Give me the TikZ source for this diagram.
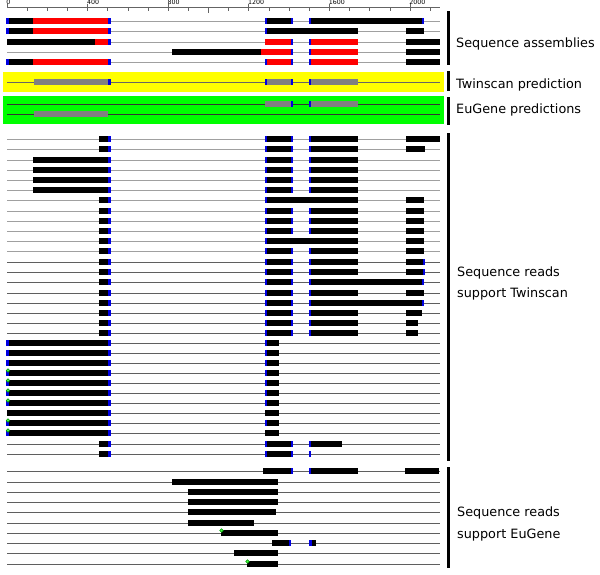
\documentclass[tikz,border=0pt]{standalone}
\usepackage{fontspec}
\setmainfont{DejaVu Sans}
\definecolor{bmc}{RGB}{0,0,225}
\definecolor{rdc}{RGB}{255,0,0}
\definecolor{ylc}{RGB}{255,255,0}
\definecolor{gnc}{RGB}{0,255,0}
\definecolor{gyc}{RGB}{128,128,128}
\definecolor{tlc}{RGB}{160,160,160}
\definecolor{tdc}{RGB}{95,95,95}
\definecolor{rlc}{RGB}{100,100,100}

\newcommand\RkTrk[2][tlc]{\draw[#1,line width=1pt] (7,#2) -- (440,#2);}
\newcommand\RkEx[4][black]{\fill[#1] (#2,#4-2.9) rectangle (#3,#4+2.9);}
\newcommand\RkBm[2]{\fill[bmc] (#1-1.2,#2-3) rectangle (#1+1.2,#2+3);}
\newcommand\RkGm[2]{\draw[green!60!black,fill=gnc!70!white,line width=0.6pt] (#1+1,#2-2.5) circle (1.8);}

\newcommand\RkOneS[1]{\RkEx{99}{109}{#1}\RkBm{109.3}{#1}}
\newcommand\RkOneL[1]{\RkEx{33}{109}{#1}\RkBm{109.3}{#1}}
\newcommand\RkOneF[1]{\RkEx{7}{109}{#1}\RkBm{7.3}{#1}\RkBm{109.3}{#1}}
\newcommand\RkTwo[1]{\RkEx{266}{292}{#1}\RkBm{266}{#1}\RkBm{292}{#1}}
\newcommand\RkThree[1]{\RkEx{310}{358}{#1}\RkBm{310}{#1}}
\newcommand\RkTwoThree[1]{\RkEx{266}{358}{#1}\RkBm{266}{#1}}
\newcommand\RkThreeL[1]{\RkEx{310}{423}{#1}\RkBm{310}{#1}\RkBm{423}{#1}}
\newcommand\RkFour[2]{\RkEx{406}{#1}{#2}}
\newcommand\RkTwoS[1]{\RkEx{266}{279}{#1}\RkBm{266}{#1}}

\tikzset{
  lbl/.style={anchor=base west,inner sep=0pt,font=\fontsize{12.8}{15}\selectfont},
  rul/.style={anchor=south west,inner sep=0pt,font=\fontsize{6.3}{7}\selectfont,text=black},
  brk/.style={fill=black}
}

\begin{document}
\begin{tikzpicture}[x=1pt,y=-1pt]
\useasboundingbox (0,0) rectangle (600,574);
\fill[white] (0,0) rectangle (600,574);

% ruler
\draw[rlc,line width=0.7pt] (7,7.5) -- (440,7.5);
\foreach \k/\lab in {0/0,1/400,2/800,3/1200,4/1600,5/2000}{
  \draw[rlc,line width=0.7pt] (7+80.6*\k,3.5) -- (7+80.6*\k,7.5);
  \node[rul] (r\k) at (7+80.6*\k-0.8,5) {\lab};
}
\foreach \k in {1,...,21}{
  \draw[rlc,line width=0.7pt] (7+20.15*\k,7.5) -- (7+20.15*\k,10.5);
}
\draw[rlc,line width=0.7pt] (7+20.15*10,7.5) -- (7+20.15*10,13);

% sequence assemblies
\RkTrk{21}\RkEx{7}{33}{21}\RkEx[rdc]{33}{109}{21}\RkBm{7.3}{21}\RkBm{109.3}{21}
  \RkTwo{21}\RkThreeL{21}
\RkTrk{31}\RkEx{7}{33}{31}\RkEx[rdc]{33}{109}{31}\RkBm{7.3}{31}\RkBm{109.3}{31}
  \RkTwoThree{31}\RkFour{424}{31}
\RkTrk{42}\RkEx{7}{95}{42}\RkEx[rdc]{95}{109}{42}\RkBm{109.3}{42}
  \RkEx[rdc]{265}{292}{42}\RkBm{292}{42}\RkEx[rdc]{310}{358}{42}\RkBm{310}{42}\RkFour{440}{42}
\RkTrk{52}\RkEx{172}{261}{52}\RkEx[rdc]{261}{292}{52}\RkBm{292}{52}
  \RkEx[rdc]{310}{358}{52}\RkBm{310}{52}\RkFour{440}{52}
\RkTrk{62}\RkEx{7}{33}{62}\RkEx[rdc]{33}{109}{62}\RkBm{7.3}{62}\RkBm{109.3}{62}
  \RkEx[rdc]{266}{292}{62}\RkBm{266}{62}\RkBm{292}{62}\RkEx[rdc]{310}{358}{62}\RkBm{310}{62}\RkFour{440}{62}

% Twinscan prediction
\fill[ylc] (2.7,71.7) rectangle (444,91.7);
\draw[black!60,line width=0.8pt] (7,82) -- (440,82);
\RkEx[gyc]{34}{109}{82}\RkBm{109.3}{82}
\RkEx[gyc]{266}{292}{82}\RkBm{266}{82}\RkBm{292}{82}
\RkEx[gyc]{310}{358}{82}\RkBm{310}{82}

% EuGene predictions
\fill[gnc] (3,96) rectangle (444,124);
\draw[black!80,line width=0.8pt] (7,104.3) -- (440,104.3);
\draw[black!80,line width=0.8pt] (7,114.3) -- (440,114.3);
\RkEx[gyc]{265}{292}{104.3}\RkBm{292}{104.3}\RkEx[gyc]{310}{358}{104.3}\RkBm{310}{104.3}
\RkEx[gyc]{34}{108}{114.3}

% reads supporting Twinscan
\RkTrk{139}\RkOneS{139}\RkTwo{139}\RkThree{139}\RkFour{440}{139}
\RkTrk{149}\RkOneS{149}\RkTwo{149}\RkThree{149}\RkFour{425}{149}
\foreach \yy in {160,170,180,190}{\RkTrk{\yy}\RkOneL{\yy}\RkTwo{\yy}\RkThree{\yy}}
\RkTrk{200}\RkOneS{200}\RkTwoThree{200}\RkFour{424}{200}
\foreach \yy in {211,221,231}{\RkTrk{\yy}\RkOneS{\yy}\RkTwo{\yy}\RkThree{\yy}\RkFour{424}{\yy}}
\RkTrk{241}\RkOneS{241}\RkTwoThree{241}\RkFour{424}{241}
\RkTrk{251}\RkOneS{251}\RkTwo{251}\RkThree{251}\RkFour{424}{251}
\foreach \yy in {262,272}{\RkTrk[tdc]{\yy}\RkOneS{\yy}\RkTwo{\yy}\RkThree{\yy}\RkFour{424}{\yy}\RkBm{424}{\yy}}
\RkTrk[tdc]{282}\RkOneS{282}\RkTwo{282}\RkThreeL{282}
\RkTrk[tdc]{293}\RkOneS{293}\RkTwo{293}\RkThree{293}\RkFour{424}{293}
\RkTrk[tdc]{303}\RkOneS{303}\RkTwo{303}\RkThreeL{303}
\RkTrk[tdc]{313}\RkOneS{313}\RkTwo{313}\RkThree{313}\RkFour{422}{313}
\foreach \yy in {323,333}{\RkTrk[tdc]{\yy}\RkOneS{\yy}\RkTwo{\yy}\RkThree{\yy}\RkFour{418}{\yy}}
\foreach \yy in {343,353,363}{\RkTrk[tdc]{\yy}\RkOneF{\yy}\RkTwoS{\yy}}
\foreach \yy in {373,383,393,403}{\RkTrk[tdc]{\yy}\RkOneF{\yy}\RkTwoS{\yy}\RkGm{7}{\yy}}
\RkTrk[tdc]{413}\RkEx{7}{109}{413}\RkBm{109.3}{413}\RkEx{265}{279}{413}
\RkTrk[tdc]{423}\RkOneF{423}\RkTwoS{423}\RkGm{7}{423}
\RkTrk[tdc]{433}\RkOneF{433}\RkEx{265}{279}{433}\RkGm{7}{433}
\RkTrk[tdc]{444}\RkOneS{444}\RkTwo{444}\RkEx{310}{342}{444}\RkBm{310}{444}
\RkTrk[tdc]{454}\RkOneS{454}\RkTwo{454}\RkBm{310}{454}

% reads supporting EuGene
\RkTrk[tdc]{471}\RkEx{263}{292}{471}\RkBm{292}{471}\RkThree{471}\RkEx{405}{439}{471}
\RkTrk[tdc]{482}\RkEx{172}{278}{482}
\foreach \yy in {492,502}{\RkTrk[tdc]{\yy}\RkEx{188}{278}{\yy}}
\RkTrk[tdc]{512}\RkEx{188}{276}{512}
\RkTrk[tdc]{523}\RkEx{188}{254}{523}
\RkTrk[tdc]{533}\RkEx{221}{278}{533}\RkGm{220.5}{533}
\RkTrk[tdc]{543}\RkEx{272}{290}{543}\RkBm{290}{543}\RkEx{309}{316}{543}\RkBm{310.5}{543}
\RkTrk[tdc]{553}\RkEx{234}{278}{553}
\RkTrk[tdc]{564}\RkEx{247}{278}{564}\RkGm{246.5}{564}

% brackets
\fill[brk] (446.5,11) rectangle (449.5,65);
\fill[brk] (446.5,71) rectangle (449.5,91);
\fill[brk] (446.5,97) rectangle (449.5,125);
\fill[brk] (446.5,133) rectangle (449.5,461);
\fill[brk] (446.5,467) rectangle (449.5,568);

% labels
\node[lbl] (la) at (456,47.5) {Sequence assemblies};
\node[lbl] (lt) at (456,88.3) {Twinscan prediction};
\node[lbl] (le) at (456,113.3) {EuGene predictions};
\node[lbl] (lr1) at (457,276.7) {Sequence reads};
\node[lbl] (lr2) at (457,297.3) {support Twinscan};
\node[lbl] (ls1) at (457,516.7) {Sequence reads};
\node[lbl] (ls2) at (457,538.3) {support EuGene};
\end{tikzpicture}
\end{document}
